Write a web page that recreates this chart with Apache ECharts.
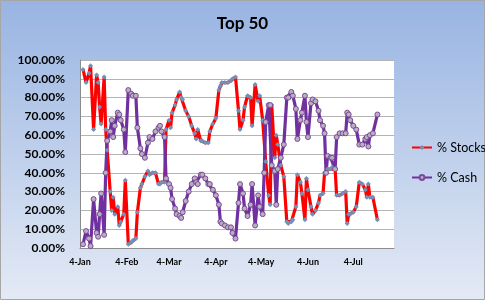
<!DOCTYPE html>
<html>
<head>
<meta charset="utf-8">
<script src="https://cdn.jsdelivr.net/npm/echarts@6/dist/echarts.min.js"></script>
<style>
  html, body { margin: 0; padding: 0; }
  #chart { width: 485px; height: 300px; }
</style>
</head>
<body>
<div id="chart"></div>
<script>
const title = 'Top 50';
const seriesNames = ['% Stocks', '% Cash'];
const tickDates = ['2010-01-04', '2010-02-04', '2010-03-04', '2010-04-04', '2010-05-04', '2010-06-04', '2010-07-04'];
const tickLabels = ['4-Jan', '4-Feb', '4-Mar', '4-Apr', '4-May', '4-Jun', '4-Jul'];
const axisStart = '2010-01-04';
const axisEnd = '2010-07-31';

const dates = [
  '2010-01-06','2010-01-08','2010-01-10','2010-01-11','2010-01-13','2010-01-15','2010-01-16','2010-01-17','2010-01-18','2010-01-20',
  '2010-01-21','2010-01-22','2010-01-24','2010-01-25','2010-01-26','2010-01-27','2010-01-29','2010-01-30','2010-01-31','2010-02-02',
  '2010-02-03','2010-02-05','2010-02-07','2010-02-08','2010-02-10','2010-02-11','2010-02-13','2010-02-14','2010-02-16','2010-02-18',
  '2010-02-19','2010-02-21','2010-02-23','2010-02-25','2010-02-26','2010-02-27','2010-03-01','2010-03-02','2010-03-04','2010-03-05',
  '2010-03-06','2010-03-08','2010-03-09','2010-03-11','2010-03-12','2010-03-13','2010-03-15','2010-03-17','2010-03-19','2010-03-21',
  '2010-03-22','2010-03-23','2010-03-25','2010-03-26','2010-03-28','2010-03-30','2010-03-31','2010-04-02','2010-04-04','2010-04-06',
  '2010-04-07','2010-04-08','2010-04-10','2010-04-12','2010-04-14','2010-04-15','2010-04-17','2010-04-19','2010-04-20','2010-04-22',
  '2010-04-23','2010-04-25','2010-04-27','2010-04-28','2010-04-30','2010-05-02','2010-05-03','2010-05-05','2010-05-06','2010-05-07',
  '2010-05-09','2010-05-10','2010-05-11','2010-05-13','2010-05-14','2010-05-15','2010-05-17','2010-05-19','2010-05-21','2010-05-22',
  '2010-05-24','2010-05-25','2010-05-27','2010-05-28','2010-05-30','2010-05-31','2010-06-02','2010-06-03','2010-06-04','2010-06-06',
  '2010-06-07','2010-06-09','2010-06-11','2010-06-12','2010-06-14','2010-06-15','2010-06-16','2010-06-17','2010-06-19','2010-06-20',
  '2010-06-22','2010-06-23','2010-06-25','2010-06-27','2010-06-29','2010-06-30','2010-07-01','2010-07-02','2010-07-04','2010-07-06',
  '2010-07-08','2010-07-10','2010-07-12','2010-07-13','2010-07-14','2010-07-15','2010-07-17','2010-07-20'
];

const stocks = [
  95, 88, 93, 97, 63, 92, 88, 75, 66, 91,
  63, 52, 30, 20, 27, 18, 22, 12, 14, 18,
  36, 2, 3, 4, 5, 19, 32, 34, 38, 41,
  39, 40, 40, 34, 34, 35, 35, 63, 68, 64,
  72, 76, 79, 83, 80, 79, 73, 70, 65, 61,
  58, 63, 57, 57, 56, 56, 62, 66, 69, 84,
  86, 88, 88, 88, 89, 90, 91, 73, 63, 68,
  75, 81, 80, 65, 87, 78, 81, 68, 67, 46,
  28, 23, 76, 48, 60, 55, 44, 38, 14, 13,
  14, 15, 22, 39, 35, 29, 15, 37, 31, 22,
  18, 20, 24, 28, 29, 40, 40, 42, 42, 43,
  42, 28, 28, 29, 30, 13, 18, 18, 19, 22,
  35, 34, 31, 27, 34, 27, 27, 15
];

const cash = [
  2, 9, 5, 1, 26, 8, 6, 18, 29, 7,
  40, 57, 62, 68, 59, 65, 72, 71, 68, 63,
  51, 84, 82, 81, 81, 64, 53, 50, 48, 56,
  59, 58, 62, 64, 65, 62, 59, 37, 34, 32,
  26, 21, 18, 17, 16, 19, 25, 30, 34, 37,
  35, 34, 39, 39, 37, 34, 34, 31, 28, 23,
  14, 13, 12, 11, 11, 8, 5, 24, 34, 29,
  21, 17, 23, 34, 12, 28, 22, 18, 40, 67,
  76, 76, 44, 41, 23, 42, 48, 55, 80, 80,
  83, 81, 74, 58, 68, 72, 81, 67, 59, 77,
  79, 78, 73, 68, 65, 61, 40, 49, 48, 48,
  42, 59, 61, 61, 61, 72, 71, 68, 65, 63,
  55, 55, 58, 59, 54, 60, 61, 71
];

// Day number counted from the axis start date (a linear date scale).
const DAY = 86400000;
function dayOf(s) {
  const p = s.split('-').map(Number);
  const q = axisStart.split('-').map(Number);
  return Math.round((Date.UTC(p[0], p[1] - 1, p[2]) - Date.UTC(q[0], q[1] - 1, q[2])) / DAY);
}
const tickDays = tickDates.map(dayOf);
const days = dates.map(dayOf);

const font = 'Lato, "Liberation Sans", sans-serif';
const chart = echarts.init(document.getElementById('chart'), null, { renderer: 'canvas' });

chart.setOption({
  animation: false,
  backgroundColor: {
    type: 'linear', x: 0, y: 0, x2: 0, y2: 1,
    colorStops: [
      { offset: 0, color: '#98b4e2' },
      { offset: 1, color: '#e4eaf5' }
    ]
  },
  graphic: [{
    type: 'rect',
    shape: { x: 0.5, y: 0.5, width: 484, height: 299 },
    style: { fill: 'none', stroke: '#a6a6a6', lineWidth: 1 },
    silent: true
  }],
  title: {
    text: title,
    left: 'center',
    top: 10,
    textStyle: { fontFamily: font, fontSize: 17, fontWeight: 'bold', color: '#000' }
  },
  legend: {
    data: seriesNames,
    orient: 'vertical',
    left: 406,
    top: 136,
    itemWidth: 20,
    itemHeight: 6,
    itemGap: 17,
    textStyle: { fontFamily: font, fontSize: 12.5, color: '#000' }
  },
  grid: {
    left: 80, top: 60, right: 91, bottom: 52,
    show: true, backgroundColor: '#ffffff', borderWidth: 0
  },
  xAxis: {
    type: 'value',
    min: 0,
    max: dayOf(axisEnd),
    axisLine: { show: true, onZero: false, lineStyle: { color: '#8c8c8c', width: 1 } },
    axisTick: { show: false },
    splitLine: { show: false },
    axisLabel: {
      customValues: tickDays,
      margin: 10,
      fontFamily: font, fontSize: 9, fontWeight: 'bold', color: '#000',
      formatter: function (v) {
        const i = tickDays.indexOf(Math.round(v));
        return i >= 0 ? tickLabels[i] : '';
      }
    }
  },
  yAxis: {
    type: 'value',
    min: 0, max: 100, interval: 10,
    axisLine: { show: true, lineStyle: { color: '#8c8c8c', width: 1 } },
    axisTick: { show: false },
    splitLine: { show: true, lineStyle: { color: '#b4b4b4', width: 1 } },
    axisLabel: {
      margin: 15,
      fontFamily: font, fontSize: 12, fontWeight: 'bold', color: '#000',
      formatter: function (v) { return v.toFixed(2) + '%'; }
    }
  },
  series: [
    {
      name: seriesNames[0],
      type: 'line',
      data: days.map((d, i) => [d, stocks[i]]),
      symbol: 'diamond',
      symbolSize: 5,
      showAllSymbol: true,
      lineStyle: { color: '#ff0000', width: 3.2 },
      itemStyle: { color: '#7391b8', borderWidth: 0 },
      emphasis: { disabled: true }
    },
    {
      name: seriesNames[1],
      type: 'line',
      data: days.map((d, i) => [d, cash[i]]),
      symbol: 'circle',
      symbolSize: 5,
      showAllSymbol: true,
      lineStyle: { color: '#7030a0', width: 3.2 },
      itemStyle: { color: '#b9b0bd', borderColor: '#7a4a9a', borderWidth: 1 },
      emphasis: { disabled: true }
    }
  ]
});
</script>
</body>
</html>
